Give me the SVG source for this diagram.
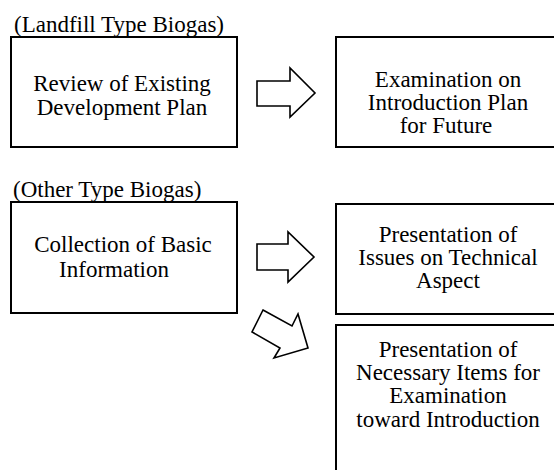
<svg xmlns="http://www.w3.org/2000/svg" width="554" height="470" viewBox="0 0 554 470">
<style>
.box{fill:#fff;stroke:#000;stroke-width:2}
.arr{fill:#fff;stroke:#000;stroke-width:1.6;stroke-linejoin:miter}
text{font-family:"Liberation Serif","Times New Roman",serif;font-size:23px;fill:#000}
.c{text-anchor:middle}
</style>
<rect width="554" height="470" fill="#fff"/>
<text x="14" y="32">(Landfill Type Biogas)</text>
<text x="13" y="197">(Other Type Biogas)</text>
<g id="review">
<rect class="box" x="11" y="37" width="226" height="110"/>
<text class="c" x="122" y="91">Review of Existing</text>
<text class="c" x="122" y="115">Development Plan</text>
</g>
<g id="examination">
<rect class="box" x="336" y="37" width="230" height="110"/>
<text class="c" x="448" y="87">Examination on</text>
<text class="c" x="448" y="110">Introduction Plan</text>
<text class="c" x="446" y="133">for Future</text>
</g>
<g id="collection">
<rect class="box" x="11" y="202" width="226" height="111"/>
<text class="c" x="123" y="252">Collection of Basic</text>
<text class="c" x="114" y="277">Information</text>
</g>
<g id="issues">
<rect class="box" x="336" y="204" width="230" height="110"/>
<text class="c" x="448" y="242">Presentation of</text>
<text class="c" x="448" y="265">Issues on Technical</text>
<text class="c" x="448" y="288">Aspect</text>
</g>
<g id="necessary">
<rect class="box" x="336" y="325" width="230" height="160"/>
<text class="c" x="448" y="357">Presentation of</text>
<text class="c" x="448" y="380">Necessary Items for</text>
<text class="c" x="448" y="403">Examination</text>
<text class="c" x="448" y="427">toward Introduction</text>
</g>
<g id="connectors">
<polygon class="arr" points="257,81 290,81 290,68 315,93 290,117 290,106 257,106"/>
<polygon class="arr" points="257,244 288,244 288,232 314,257 288,282 288,270 257,270"/>
<polygon class="arr" points="263,310 292,326 298,314 308,348 274,358 280,348 252,332"/>
</g>
</svg>
